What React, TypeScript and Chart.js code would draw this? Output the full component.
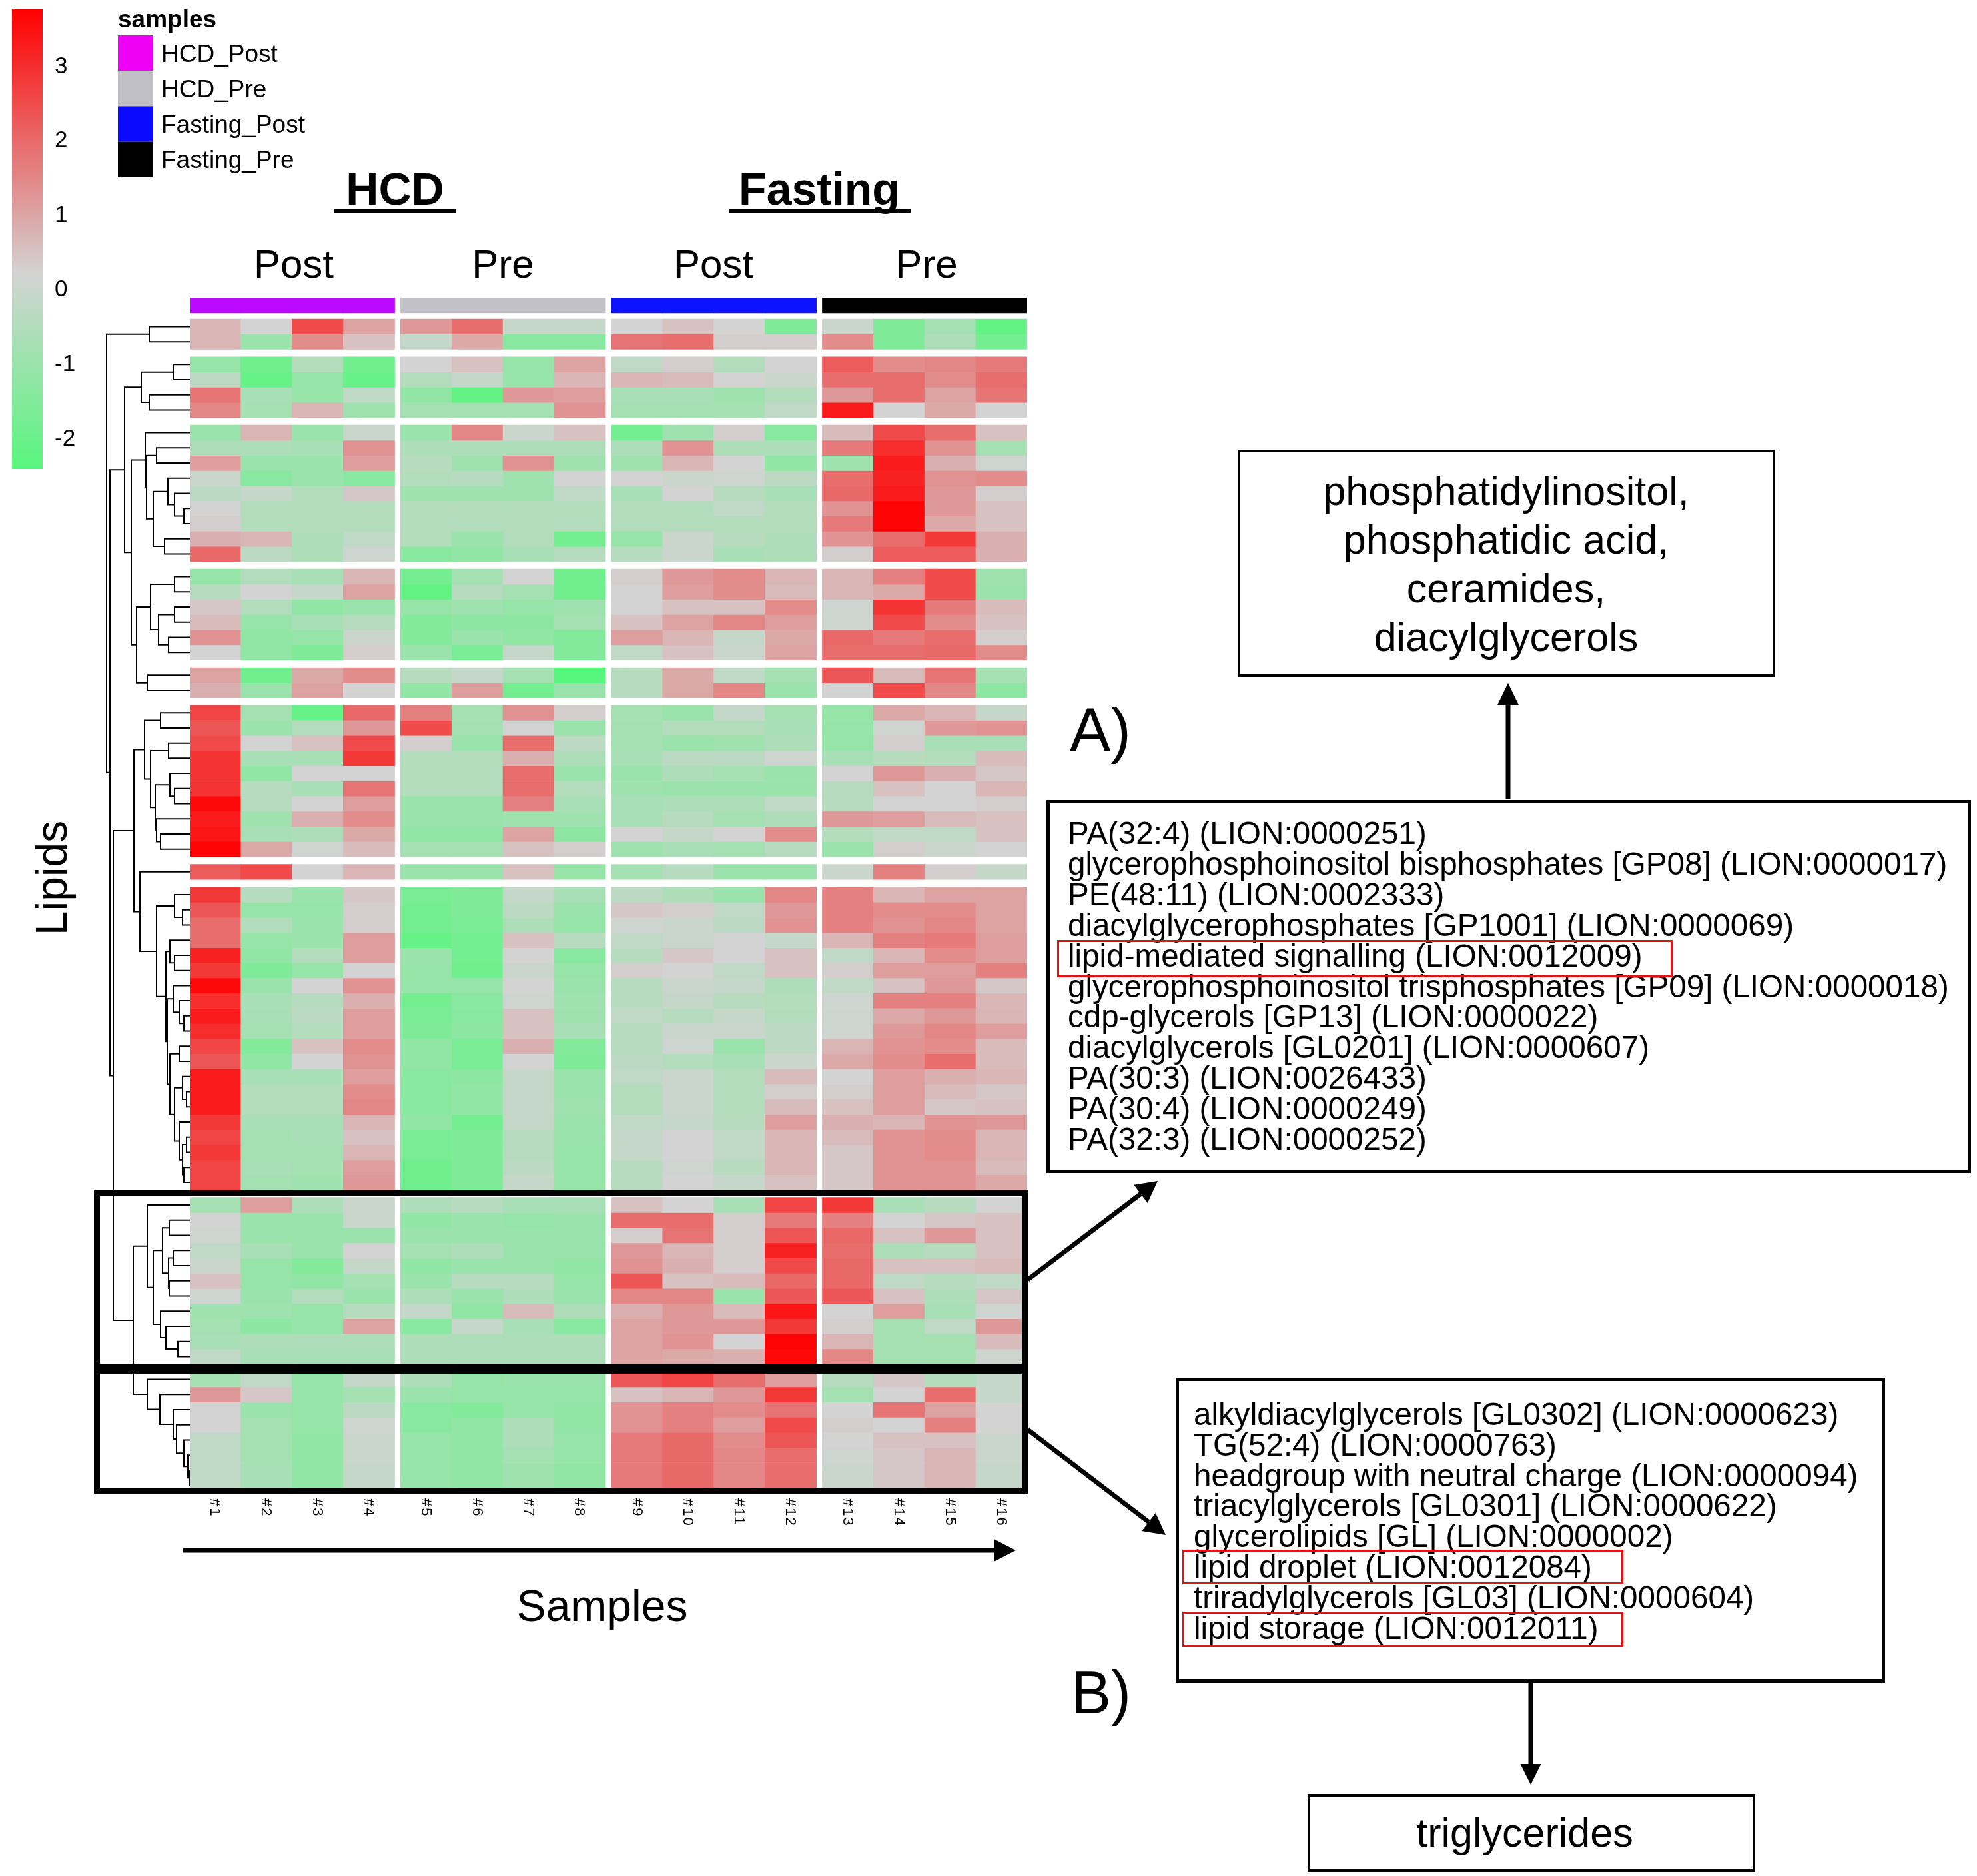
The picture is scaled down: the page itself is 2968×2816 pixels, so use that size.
import React, { useEffect, useRef } from "react";
import Chart from "chart.js/auto";

const sampleLabels = ["#1","#2","#3","#4","#5","#6","#7","#8","#9","#10","#11","#12","#13","#14","#15","#16"];
const sampleGroupColors = ["#bb08ff", "#c3c1c8", "#0d13ff", "#000000"];

const cluster1 = [
  [.7,.2,2.5,1.0, 1.2,1.9,-.1,-.1, .2,.5,.2,-1.6, 0,-1.6,-.8,-2.2],
  [.7,-1,1.4,.5, -.1,.9,-1.4,-1.4, 1.8,1.9,.3,.3, 1.4,-1.6,-.6,-1.8],
];
const cluster2 = [
  [-1.1,-1.9,-.5,-1.9, .2,.5,-1.1,1.0, -.2,.3,-.5,.2, 2.2,1.4,1.5,1.7],
  [-.3,-2.1,-1.1,-2.1, -.5,-.1,-1.1,.7, .7,.6,.2,0, 1.9,1.9,1.4,1.9],
  [1.8,-.7,-1.1,-.2, -1.2,-2.2,1.2,1.1, -.7,-.7,-.9,-.5, 1.2,1.9,1.0,1.8],
  [1.5,-.8,.7,-.9, -.8,-.8,-.8,1.3, -.8,-.8,-.8,-.2, 3.3,.2,.9,.2],
];
const cluster3 = [
  [-1,.7,-1,0, -1,1.5,0,.5, -1.8,-.9,.3,-1.4, .6,2.5,1.9,.5],
  [-.6,-.6,-.7,1.3, -.6,-.6,-.6,-.6, -.6,1.3,-.6,-.6, 1.7,3.0,1.3,-.8],
  [1.1,-1,-1,1.1, -.4,-.9,1.3,-.9, -.9,.7,.2,-1.2, -.9,3.3,.8,.1],
  [0,-1.4,-1,-1.4, -.5,-.4,-.9,.2, .2,0,.1,-.3, 1.9,3.2,1.3,1.4],
  [-.3,-.1,-.5,.4, -.9,-.9,-.9,-.2, -.7,.2,-.4,-.7, 2.0,3.3,1.2,.3],
  [.2,-.5,-.5,-.5, -.5,-.5,-.5,-.5, -.5,-.5,-.2,-.5, 1.3,3.7,1.2,.5],
  [.3,-.5,-.5,-.5, -.5,-.5,-.5,-.5, -.5,-.5,-.5,-.5, 1.7,3.7,.9,.5],
  [.8,.7,-.6,-.2, -.5,-1,-.5,-1.8, -1.1,0,-.4,-.6, 1.3,1.9,2.8,.8],
  [2.0,-.3,-.6,.1, -1.4,-1.2,-.7,-.4, -.4,0,-.7,-.6, .3,2.2,2.2,.8],
];
const cluster4 = [
  [-1.1,-.5,-.7,.7, -1.8,-.8,.2,-1.9, .3,1.2,1.4,.7, .7,1.6,2.5,-.9],
  [-.4,.2,-.1,1.0, -2.2,-.4,-.8,-1.9, .2,1.1,1.4,.6, .7,.9,2.5,-1],
  [.4,-.5,-1.2,-1, -1.1,-.9,-1.1,-.9, .2,.5,.5,1.4, .1,2.9,1.7,.6],
  [.6,-1.1,-.7,-.4, -1.5,-1.3,-1.3,-.8, .5,1.0,1.5,1.1, .1,2.5,1.4,.5],
  [1.3,-1.2,-1.1,0, -1.5,-1,-1.2,-1.5, 1.1,.7,-.1,.9, 2.0,1.7,1.9,.3],
  [.2,-1.2,-1.6,.3, -1,-1.7,-.1,-1.5, -.2,.5,0,1.0, 1.9,1.9,2.0,1.4],
];
const cluster5 = [
  [1.0,-1.9,.9,1.4, -.4,-.1,-.8,-2.4, -.4,.9,-.2,-.8, 2.3,.6,1.8,-.8],
  [.8,-1,1.0,.2, -1.2,1.1,-1.8,-1, -.4,.9,1.5,-1, .2,2.5,1.5,-1.3],
];
const cluster6 = [
  [2.6,-.8,-2.1,2.0, 1.6,-.8,1.3,.3, -.8,-1,-.1,-.8, -1.1,.9,.7,-.1],
  [2.3,-1,-.5,1.2, 2.5,-.8,.2,-1, -.8,-.5,-.5,-.7, -1.1,.1,1.2,1.3],
  [2.5,.2,.5,2.5, .3,-1,1.9,-.3, -.8,-1,-.9,-.6, -1.1,.3,-.7,-.7],
  [2.9,-.7,-.7,2.8, -.5,-.5,.8,-.6, -.7,-.3,-.3,.1, -.7,-.4,-.5,.6],
  [2.9,-1.2,.2,.2, -.5,-.5,1.9,-1, -1,-.6,-.8,-1, .2,1.2,.8,.4],
  [2.9,-.4,-.7,1.8, -.5,-.5,1.9,-.5, -.9,-1,-1,-1, -.4,.5,.2,.7],
  [3.6,-.4,.2,1.1, -1,-1,1.6,-.7, -.7,-.6,-.6,-.2, -.4,.2,.2,.3],
  [3.3,-.9,.8,1.4, -1,-1,-.9,-.9, -.7,-.4,-.8,-.6, 1.2,1.1,.6,.5],
  [3.4,-.7,-.6,.9, -1.2,-1.2,1.0,-1.3, .2,-.1,.2,1.4, -.5,-.2,-.2,.5],
  [3.7,.9,.1,.6, -.8,-.8,.5,.3, -.9,-.7,-.8,-.4, -1,.3,0,.2],
];
const cluster7 = [
  [2.2,2.5,.2,.7, -1,-1,.5,-1.1, -.8,-.4,-1,-1, 0,1.6,.3,-.1],
];
const cluster8 = [
  [2.8,-.4,-1,.4, -1.7,-1.6,-.1,-.7, -.3,-.6,-1,1.5, 1.6,.7,1.0,1.0],
  [2.3,-1.1,-1.1,.3, -1.8,-1.6,-.3,-1, .4,.3,-.2,1.2, 1.6,1.4,1.4,1.0],
  [1.9,-.5,-1,.3, -1.8,-1.7,-.6,-1.1, .1,0,-.3,1.3, 1.6,1.3,1.5,1.0],
  [1.9,-1.1,-1,1.1, -2.1,-1.8,.5,-.4, -.2,0,.2,-.1, .7,1.6,1.7,1.1],
  [3.2,-1.2,-.5,1.1, -1,-1.8,.2,-1.4, -.4,.4,.2,.5, -.2,.7,1.4,1.1],
  [2.8,-1.6,-1.1,.2, -1.1,-1.9,0,-1.1, .3,.2,-.2,.5, .3,1.1,1.1,1.6],
  [3.6,-1,.2,1.3, -1.1,-1.1,.2,-1, -.4,0,-.1,-.6, -.2,.5,1.2,.4],
  [3.0,-.7,-.4,.8, -1.8,-1.4,.1,-.9, -.4,-.1,-.4,-.5, .1,1.6,1.6,.7],
  [3.3,-.7,-.3,1.1, -1.7,-1.4,.5,-.9, -.2,-.4,-.1,-.5, .1,.9,1.2,.7],
  [3.0,-.8,-.5,1.1, -1.6,-1.3,.5,-.7, -.4,0,0,-.3, .1,1.2,1.5,1.1],
  [2.6,-1.5,.5,1.4, -1.2,-1.7,.8,-1.5, -.4,.1,-1,-.3, .7,1.3,1.4,.6],
  [2.3,-1.2,.2,1.3, -1.2,-1.7,.2,-1.6, -.3,-.5,-.7,0, .9,1.4,1.9,.6],
  [3.3,-.7,-.7,1.1, -1.4,-1.3,-.1,-1, -.2,0,-.5,.6, .2,1.1,.8,.7],
  [3.3,-.5,-.5,1.4, -1.4,-1.2,-.1,-1, -.5,0,-.5,.3, .3,1.1,.6,.4],
  [3.3,-.5,-.5,1.5, -1.4,-1.2,-.1,-.9, -.5,0,-.5,.6, .5,1.1,.4,.5],
  [2.8,-.7,-.7,.7, -1.2,-1.8,-.1,-1, -.2,-.1,-.4,1.1, .8,.7,1.3,1.2],
  [2.6,-.8,-.7,.5, -1.7,-1.6,-.4,-1, -.1,.2,-.2,.7, .6,1.3,1.4,.7],
  [2.8,-.8,-.8,.7, -1.7,-1.6,-.4,-1.1, -.1,.2,-.2,.7, .4,1.3,1.4,.7],
  [2.6,-.7,-.8,1.1, -1.9,-1.6,-.3,-1.1, -.4,.1,-.4,.7, .4,1.3,1.3,.6],
  [2.6,-.8,-.9,1.2, -1.9,-1.6,-.1,-1.1, -.4,.2,-.1,.5, .4,1.3,1.3,.9],
];
const cluster9 = [
  [-.8,1.1,-.6,0, -.6,-.4,-.7,-.7, .5,.2,-.7,2.6, 2.8,-.7,-.4,.2],
  [.2,-1,-1,0, -1.2,-1,-1.1,-1, 1.9,1.9,.3,1.7, 1.6,.2,.4,.5],
  [.1,-1,-1,-1, -1,-1,-1,-1, .3,1.8,.3,2.3, 2.0,.5,1.2,.5],
  [-.2,-.7,-1,.2, -.8,-.6,-1,-1, 1.2,.7,.3,3.2, 1.9,-.6,-.4,.5],
  [0,-1.1,-1.5,-.1, -1.2,-1,-1,-1.2, 1.3,.8,.3,2.5, 2.0,.5,.5,.6],
  [.5,-1.1,-1.2,-.8, -1,-.4,-.4,-1.1, 2.3,.5,.6,2.0, 2.0,-.2,-.4,-.2],
  [.1,-1,-.5,-1, -.6,-1,-.6,-1, 1.5,1.5,-1,2.3, 2.3,.5,-.6,.4],
  [-.9,-.9,-1.1,-.4, -.1,-1.2,.6,-.6, .8,1.2,.6,3.4, .2,1.1,-.7,.1],
  [-.8,-1.3,-1.1,1.0, -1.4,-.1,-.7,-1.4, 1.0,1.2,1.2,2.8, .3,-.8,-.2,1.2],
  [-.7,-.6,-.6,-.6, -.6,-.6,-.6,-.6, 1.0,1.3,.2,3.7, .7,-.8,-.8,.6],
  [-.2,-.7,-.7,-.7, -.6,-.6,-.6,-.6, 1.0,.9,.8,3.6, 1.5,-.8,-.8,.1],
];
const cluster10 = [
  [-.8,-.2,-1.1,-.1, -.6,-1.1,-1,-1, 2.3,2.6,1.9,1.1, -.4,.4,-.5,-.1],
  [1.2,.4,-1.1,-.8, -1,-1.1,-1.1,-1.1, .5,.7,1.2,2.8, -.8,.2,1.9,-.1],
  [.2,-1,-1.1,-.3, -1.4,-1.5,-1.1,-1.2, 1.3,1.6,1.4,1.8, .2,1.8,1.0,.2],
  [.2,-.8,-1.1,.1, -1.4,-1.2,-.6,-1.2, 1.3,1.6,1.1,2.5, .3,.2,1.6,.2],
  [-.2,-.8,-1.2,0, -1.1,-1.2,-.6,-1.1, 1.7,2.0,1.4,2.3, .2,.5,.5,0],
  [-.2,-.8,-1.2,0, -1.1,-1.2,-.8,-1.1, 1.7,2.0,1.5,1.9, .1,.4,.7,0],
  [-.2,-.7,-1.2,-.1, -1.1,-1.2,-.9,-1.2, 1.7,2.0,1.5,1.9, 0,.4,.7,-.1],
  [-.2,-.7,-1.2,-.1, -1.1,-1.2,-.9,-1.2, 1.7,2.0,1.5,1.9, 0,.4,.7,-.1],
];
const clusters = [cluster1, cluster2, cluster3, cluster4, cluster5, cluster6, cluster7, cluster8, cluster9, cluster10];

// Dendrogram: [merge height, upper child, lower child]; 0 is a leaf (next row down).
const treeA = [61, 0, 0];
const treeB = [73, [25, 0, 0], [61, 0, 0]];
const treeC = [67, 0, [65, [50, 0, 0], [55, [33, 0, [23, 0, [9, 0, 0]]], [38, 0, 0]]]];
const treeD = [80, [59, [23, 0, 0], [47, [23, 0, 0], [32, 0, 0]]], [64, 0, 0]];
const treeE = [68, [44, 0, 0], [59, [32, 0, 0], [52, [30, 0, [23, 0, 0]], [50, 0, [44, 0, 0]]]]];
const treeF = [75, 0, [50, [23, 0, [11, 0, 0]], [36, [30, 0, [23, 0, 0]], [34, [25, 0, [16, 0, [9, 0, 0]]], [30, [16, 0, 0], [23, [11, 0, [5, 0, 0]], [16, 0, [11, [5, 0, 0], [9, 0, 0]]]]]]]]];
const treeG = [64, 0, [55, [41, [31, 0, 0], [32, [25, 0, 0], [31, 0, 0]]], [44, 0, [36, 0, [18, 0, 0]]]]];
const treeH = [64, 0, [45, 0, [25, 0, [20, 0, [9, 0, [3, 0, [1, 0, 0]]]]]]];
const dendrogram = [125, treeA, [120, [98, treeB, [88, treeC, treeD]], [115, [84, treeE, treeF], [85, treeG, treeH]]]];

const colorbarTicks = [3, 2, 1, 0, -1, -2];
const legendTitle = "samples";
const legendLabels = ["HCD_Post", "HCD_Pre", "Fasting_Post", "Fasting_Pre"];
const legendColors = ["#ee00f5", "#c0bfc5", "#0a0aff", "#000000"];
const conditionLabels = ["Post", "Pre", "Post", "Pre"];
const dietLabels = ["HCD", "Fasting"];
const summaryA = ["phosphatidylinositol,", "phosphatidic acid,", "ceramides,", "diacylglycerols"];
const listA = [
  "PA(32:4) (LION:0000251)",
  "glycerophosphoinositol bisphosphates [GP08] (LION:0000017)",
  "PE(48:11) (LION:0002333)",
  "diacylglycerophosphates [GP1001] (LION:0000069)",
  "lipid-mediated signalling (LION:0012009)",
  "glycerophosphoinositol trisphosphates [GP09] (LION:0000018)",
  "cdp-glycerols [GP13] (LION:0000022)",
  "diacylglycerols [GL0201] (LION:0000607)",
  "PA(30:3) (LION:0026433)",
  "PA(30:4) (LION:0000249)",
  "PA(32:3) (LION:0000252)",
];
const listB = [
  "alkyldiacylglycerols [GL0302] (LION:0000623)",
  "TG(52:4) (LION:0000763)",
  "headgroup with neutral charge (LION:0000094)",
  "triacylglycerols [GL0301] (LION:0000622)",
  "glycerolipids [GL] (LION:0000002)",
  "lipid droplet (LION:0012084)",
  "triradylglycerols [GL03] (LION:0000604)",
  "lipid storage (LION:0012011)",
];

const FONT = '"Liberation Sans", Arial, sans-serif';
const WIDTH = 2968, HEIGHT = 2816;
const COL_GAP = 0.12, ROW_GAP = 0.5;
const V_MIN = -2.43, V_MID = 0.2, V_MAX = 3.75;
const C_LOW = [88, 246, 125], C_MID = [211, 211, 211], C_HIGH = [255, 0, 0];

function valueColor(v: number) {
  const a = v < V_MID ? C_LOW : C_HIGH;
  const t = v < V_MID ? (V_MID - v) / (V_MID - V_MIN) : (v - V_MID) / (V_MAX - V_MID);
  const c = C_MID.map((m, i) => Math.round(m + (a[i] - m) * Math.min(1, t)));
  return `rgb(${c[0]},${c[1]},${c[2]})`;
}
const colCenter = (j: number) => j + 0.5 + Math.floor(j / 4) * COL_GAP;

function buildDatasets() {
  const sets: any[] = [];
  sets.push({
    data: sampleLabels.map((_, j) => ({ x: colCenter(j), y: [-1.41, -0.4] })),
    backgroundColor: sampleLabels.map((_, j) => sampleGroupColors[Math.floor(j / 4)]),
  });
  let row = 0;
  clusters.forEach((cl, ci) => {
    cl.forEach((vals) => {
      const top = row + ci * ROW_GAP;
      sets.push({
        data: vals.map((_, j) => ({ x: colCenter(j), y: [top, top + 1] })),
        backgroundColor: vals.map(valueColor),
      });
      row++;
    });
  });
  return sets;
}

function rowCenters() {
  const out: number[] = [];
  let row = 0;
  clusters.forEach((cl, ci) => cl.forEach(() => { out.push(row + 0.5 + ci * ROW_GAP); row++; }));
  return out;
}

const overlay = {
  id: "overlay",
  afterDraw(chart: any) {
    const ctx: CanvasRenderingContext2D = chart.ctx;
    const xs = chart.scales.x, ys = chart.scales.y;
    const text = (s: string, x: number, y: number, size: number, align: any = "left", bold = false, base: any = "alphabetic") => {
      ctx.font = `${bold ? "bold " : ""}${size}px ${FONT}`;
      ctx.textAlign = align; ctx.textBaseline = base; ctx.fillStyle = "#000";
      ctx.fillText(s, x, y);
    };
    const box = (x0: number, y0: number, x1: number, y1: number, lw: number, color = "#000") => {
      ctx.strokeStyle = color; ctx.lineWidth = lw;
      ctx.strokeRect(x0 + lw / 2, y0 + lw / 2, x1 - x0 - lw, y1 - y0 - lw);
    };
    const arrow = (x0: number, y0: number, x1: number, y1: number, lw: number, hl: number, hw: number) => {
      const a = Math.atan2(y1 - y0, x1 - x0);
      const bx = x1 - hl * Math.cos(a), by = y1 - hl * Math.sin(a);
      ctx.strokeStyle = "#000"; ctx.lineWidth = lw; ctx.lineCap = "butt";
      ctx.beginPath(); ctx.moveTo(x0, y0); ctx.lineTo(bx, by); ctx.stroke();
      ctx.fillStyle = "#000"; ctx.beginPath();
      ctx.moveTo(x1, y1);
      ctx.lineTo(bx - (hw / 2) * Math.sin(a), by + (hw / 2) * Math.cos(a));
      ctx.lineTo(bx + (hw / 2) * Math.sin(a), by - (hw / 2) * Math.cos(a));
      ctx.closePath(); ctx.fill();
    };

    ctx.save();
    // colour bar
    const barTop = 13, barBottom = 704;
    const g = ctx.createLinearGradient(0, barTop, 0, barBottom);
    g.addColorStop(0, valueColor(V_MAX));
    g.addColorStop((V_MAX - V_MID) / (V_MAX - V_MIN), valueColor(V_MID));
    g.addColorStop(1, valueColor(V_MIN));
    ctx.fillStyle = g; ctx.fillRect(18, barTop, 46, barBottom - barTop);
    colorbarTicks.forEach((t) => {
      const y = barTop + ((V_MAX - t) / (V_MAX - V_MIN)) * (barBottom - barTop);
      text(String(t), 82, y + 3, 35, "left", false, "middle");
    });
    // sample legend
    text(legendTitle, 177, 41, 37, "left", true);
    legendLabels.forEach((l, i) => {
      ctx.fillStyle = legendColors[i];
      ctx.fillRect(177, 53 + i * 53.2, 53, 53.2);
      text(l, 242, 93 + i * 53, 37);
    });
    // group headings
    const dietX = [593, 1230];
    const ruleX = [[502, 684], [1094, 1367]];
    dietLabels.forEach((l, i) => {
      text(l, dietX[i], 307, 68, "center", true);
      ctx.fillStyle = "#000";
      ctx.fillRect(ruleX[i][0], 313, ruleX[i][1] - ruleX[i][0], 7);
    });
    const condX = [441, 755, 1071, 1391];
    conditionLabels.forEach((l, i) => text(l, condX[i], 417, 60, "center"));

    // dendrogram
    const centers = rowCenters();
    let leaf = 0;
    const left = xs.left;
    ctx.strokeStyle = "#000"; ctx.lineWidth = 2;
    const drawTree = (n: any): number[] => {
      if (n === 0) { const y = ys.getPixelForValue(centers[leaf++]); return [left, y]; }
      const x = left - n[0];
      const a = drawTree(n[1]), b = drawTree(n[2]);
      ctx.beginPath();
      ctx.moveTo(a[0], a[1]); ctx.lineTo(x, a[1]); ctx.lineTo(x, b[1]); ctx.lineTo(b[0], b[1]);
      ctx.stroke();
      return [x, (a[1] + b[1]) / 2];
    };
    drawTree(dendrogram);

    // sample labels (rotated axis ticks)
    sampleLabels.forEach((l, j) => {
      ctx.save();
      ctx.translate(xs.getPixelForValue(colCenter(j)) - 7, 2249);
      ctx.rotate(Math.PI / 2);
      (ctx as any).letterSpacing = "2px";
      text(l, 0, 0, 22);
      ctx.restore();
    });

    // highlighted clusters
    box(141, 1787, 1543, 2062, 9);
    box(141, 2047, 1543, 2242, 9);

    // axis captions
    arrow(275, 2327, 1525, 2327, 7, 32, 33);
    text("Samples", 904, 2433, 66, "center");
    ctx.save();
    ctx.translate(100, 1318);
    ctx.rotate(-Math.PI / 2);
    text("Lipids", 0, 0, 66, "center");
    ctx.restore();

    // panel A
    box(1858, 675, 2665, 1016, 4);
    const ay = [758, 831, 904, 977];
    summaryA.forEach((l, i) => text(l, 2261, ay[i], 61, "center"));
    arrow(2264, 1200, 2264, 1025, 7, 33, 32);
    text("A)", 1606, 1128, 92);
    box(1571, 1201, 2959, 1761, 5);
    listA.forEach((l, i) => text(l, 1603, 1267 + i * 45.9, 47.6));
    box(1587, 1411, 2511, 1467, 3, "#e01414");
    arrow(1543, 1921, 1738, 1773, 7, 32, 34);

    // panel B
    arrow(1543, 2146, 1750, 2304, 7, 32, 34);
    box(1765, 2068, 2830, 2526, 5);
    listB.forEach((l, i) => text(l, 1792, 2139 + i * 45.8, 47.6));
    box(1775, 2326, 2437, 2378, 3, "#e01414");
    box(1775, 2419, 2437, 2472, 3, "#e01414");
    text("B)", 1608, 2572, 90);
    arrow(2298, 2526, 2298, 2679, 7, 31, 31);
    box(1963, 2693, 2635, 2810, 4);
    text("triglycerides", 2289, 2772, 61, "center");
    ctx.restore();
  },
};

export default function App() {
  const ref = useRef<HTMLCanvasElement>(null);
  useEffect(() => {
    document.body.style.margin = "0";
    const chart = new Chart(ref.current as any, {
      type: "bar",
      data: { datasets: buildDatasets() },
      options: {
        responsive: false,
        animation: false,
        datasets: { bar: { grouped: false, barThickness: 77.2, borderWidth: 0 } },
        layout: { padding: { left: 285, right: WIDTH - 1542, top: 447, bottom: HEIGHT - 2241 } },
        plugins: { legend: { display: false }, tooltip: { enabled: false }, title: { display: false } },
        scales: {
          x: { type: "linear", offset: false, min: 0, max: 16 + 3 * COL_GAP, display: false, grid: { display: false } },
          y: { type: "linear", min: -1.41, max: 73 + 9 * ROW_GAP, reverse: true, display: false, grid: { display: false } },
        },
      } as any,
      plugins: [overlay],
    } as any);
    return () => chart.destroy();
  }, []);
  return (
    <div style={{ position: "absolute", left: 0, top: 0, width: WIDTH, height: HEIGHT, background: "#fff" }}>
      <canvas ref={ref} width={WIDTH} height={HEIGHT} style={{ display: "block" }} />
    </div>
  );
}
